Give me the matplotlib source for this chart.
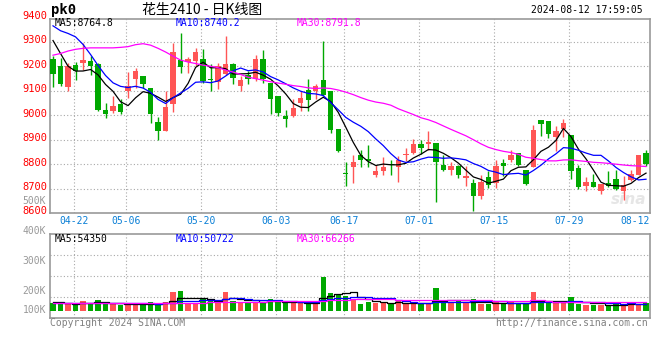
import matplotlib
matplotlib.use('Agg')
import matplotlib.pyplot as plt
import matplotlib.transforms as mtransforms
import numpy as np
import pandas as pd

W, H = 660, 360
RED = '#ff5555'
GREEN = '#00a800'
GRID = '#a8a8a8'
MONO = 'DejaVu Sans Mono'

# trading days in view (exchange closed on these weekdays)
holidays = ['2024-05-01', '2024-05-02', '2024-05-03', '2024-06-10']
days = pd.bdate_range('2024-04-17', '2024-08-12')
days = days[~days.isin(pd.to_datetime(holidays))]
day_labels = [d.strftime('%m-%d') for d in days]

opens = [9228, 9200, 9114, 9203, 9213, 9220, 9209, 9023, 9015, 9044,
         9098, 9149, 9158, 9109, 8970, 8934, 9044, 9224, 9218, 9221,
         9229, 9149, 9135, 9169, 9211, 9119, 9164, 9146, 9228, 9132,
         9080, 8998, 8998, 9048, 9101, 9098, 9142, 9098, 8945, 8764,
         8787, 8839, 8821, 8757, 8771, 8799, 8787, 8836, 8846, 8880,
         8884, 8887, 8798, 8775, 8794, 8745, 8723, 8668, 8746, 8723,
         8805, 8816, 8846, 8777, 8788, 8982, 8974, 8910, 8944, 8917,
         8784, 8712, 8728, 8689, 8723, 8737, 8689, 8734, 8757, 8846]
highs = [9241, 9235, 9214, 9217, 9296, 9241, 9214, 9050, 9078, 9064,
         9176, 9194, 9158, 9109, 8993, 9098, 9296, 9337, 9239, 9275,
         9269, 9207, 9214, 9323, 9214, 9159, 9180, 9244, 9265, 9132,
         9080, 9019, 9064, 9098, 9146, 9128, 9303, 9098, 8945, 8810,
         8839, 8859, 8876, 8798, 8829, 8818, 8832, 8866, 8903, 8900,
         8937, 8887, 8839, 8807, 8798, 8791, 8739, 8757, 8771, 8818,
         8821, 8857, 8846, 8777, 8958, 8982, 8974, 8955, 8986, 8917,
         8798, 8746, 8761, 8720, 8773, 8777, 8750, 8775, 8839, 8857]
lows = [9116, 9121, 9098, 9142, 9184, 9166, 9016, 8989, 9009, 9003,
        9071, 9112, 9112, 8966, 8900, 8934, 9012, 9173, 9173, 9200,
        9132, 9098, 9105, 9166, 9128, 9098, 9128, 9139, 9132, 9003,
        8998, 8951, 8993, 9016, 9016, 9064, 9078, 8928, 8848, 8709,
        8723, 8787, 8788, 8746, 8754, 8757, 8726, 8812, 8843, 8843,
        8859, 8644, 8773, 8754, 8743, 8709, 8607, 8657, 8702, 8702,
        8750, 8809, 8791, 8713, 8788, 8914, 8907, 8853, 8910, 8741,
        8698, 8689, 8705, 8678, 8705, 8693, 8655, 8730, 8754, 8791]
closes = [9169, 9129, 9200, 9180, 9224, 9200, 9020, 9003, 9039, 9012,
          9121, 9180, 9128, 9005, 8934, 9033, 9258, 9196, 9229, 9260,
          9139, 9143, 9200, 9207, 9151, 9142, 9149, 9228, 9146, 9068,
          9007, 8985, 9031, 9071, 9061, 9121, 9082, 8941, 8852, 8758,
          8810, 8818, 8812, 8773, 8787, 8795, 8818, 8843, 8880, 8865,
          8891, 8807, 8777, 8791, 8754, 8747, 8668, 8727, 8713, 8794,
          8791, 8839, 8798, 8720, 8941, 8962, 8923, 8937, 8966, 8773,
          8705, 8726, 8705, 8720, 8709, 8698, 8716, 8761, 8839, 8801]
volumes = [57000, 57000, 57000, 57000, 76000, 57000, 83000, 50000, 50000, 44000,
           52000, 50000, 50000, 68000, 57000, 68000, 149000, 156000, 57000, 57000,
           91000, 91000, 70000, 149000, 78000, 65000, 70000, 70000, 65000, 91000,
           65000, 65000, 65000, 65000, 57000, 57000, 266000, 141000, 123000, 116000,
           91000, 52000, 70000, 57000, 57000, 57000, 83000, 50000, 50000, 50000,
           50000, 180000, 57000, 65000, 75000, 57000, 90000, 50000, 50000, 65000,
           50000, 70000, 50000, 57000, 150000, 63000, 63000, 57000, 57000, 110000,
           50000, 47000, 46000, 46000, 46000, 50000, 50000, 65000, 50000, 57000]

# averages for bars whose window starts before the view
ma5_head = [9305, 9252, 9200, 9180]
ma10_head = [9365, 9345, 9334, 9320, 9289, 9248, 9203, 9162, 9132]
ma30_head = [9245, 9252, 9262, 9269, 9273, 9275, 9275, 9275, 9275, 9277,
             9280, 9288, 9292, 9286, 9273, 9258, 9241, 9225, 9217, 9211,
             9204, 9200, 9194, 9184, 9176, 9166, 9155, 9149, 9143]
vma5_head = [70000, 70000, 58000, 56000]
vma10_head = [60000, 60000, 59000, 59000, 59000, 58000, 59000, 59000, 58000]
vma30_head = [60000, 60000, 60000, 60000, 60000, 60000, 60000, 61000, 61000, 61000,
              61000, 61000, 61000, 61000, 62000, 62000, 64000, 64000, 64000, 64000,
              64000, 65000, 65000, 66000, 67000, 67000, 68000, 68000, 68000]

price_ma_last = ['8764.8', '8740.2', '8791.8']
vol_ma_last = ['54350', '50722', '66266']
tick_dates = ['04-22', '05-06', '05-20', '06-03', '06-17', '07-01', '07-15', '07-29', '08-12']
price_levels = [8600, 8700, 8800, 8900, 9000, 9100, 9200, 9300, 9400]
vol_levels = ['500K', '400K', '300K', '200K', '100K']


def moving_avg(vals, n, head):
    s = pd.Series(vals, dtype=float).rolling(n).mean().values
    s[:len(head)] = head
    return s


def box(l, t, r, b):
    return [l / W, 1 - b / H, (r - l) / W, (b - t) / H]


o = np.array(opens, float)
c = np.array(closes, float)
x = np.arange(len(c))
col = np.where(c >= o, RED, GREEN)

fig = plt.figure(figsize=(W / 100, H / 100), dpi=100)
ax = fig.add_axes(box(50, 18.5, 650, 213))
axv = fig.add_axes(box(50, 234.3, 650, 317.7))

xl = (-0.4, len(c) - 1 + 0.53)
grid_x = [day_labels.index(d) - 0.25 for d in tick_dates[:-1]]

# price panel
ax.vlines(x, lows, highs, colors=col, lw=1, zorder=3)
ax.bar(x, np.maximum(np.abs(c - o), 5), 0.72, bottom=np.minimum(o, c),
       color=col, lw=0, zorder=3)
ax.plot(x, moving_avg(closes, 5, ma5_head), color='black', lw=0.9, zorder=4)
ax.plot(x, moving_avg(closes, 10, ma10_head), color='#0000ff', lw=0.9, zorder=4)
ax.plot(x, moving_avg(closes, 30, ma30_head), color='#ff00ff', lw=0.9, zorder=4)
ax.set_xlim(*xl)
ax.set_ylim(8600, 9395)
ax.set_yticks(price_levels[1:-1])
ax.set_xticks(grid_x)

# volume panel
axv.bar(x, volumes, 0.72, color=col, lw=0, zorder=3)
axv.step(x, moving_avg(volumes, 5, vma5_head), where='mid', color='black', lw=0.9, zorder=4)
axv.step(x, moving_avg(volumes, 10, vma10_head), where='mid', color='#0000ff', lw=0.9, zorder=4)
axv.step(x, moving_avg(volumes, 30, vma30_head), where='mid', color='#ff00ff', lw=0.9, zorder=4)
k = 7820
vlo, vhi = -7 * k, 76.4 * k
axv.set_xlim(*xl)
axv.set_ylim(vlo, vhi)
axv.set_yticks([vlo + (vhi - vlo) * f for f in (0.25, 0.5, 0.75)])
axv.set_xticks(grid_x)

for a in (ax, axv):
    a.grid(True, color=GRID, lw=0.8, ls=(0, (1, 2)))
    a.set_axisbelow(True)
    a.tick_params(length=0, labelleft=False, labelbottom=False)
    for s in a.spines.values():
        s.set_color('#999999')
        s.set_linewidth(1.2)

# price labels
tr = mtransforms.offset_copy(mtransforms.blended_transform_factory(ax.transAxes, ax.transData),
                             fig=fig, x=-3, y=1.5, units='dots')
for v in price_levels:
    ax.text(0, v, str(v), transform=tr, ha='right', va='center', color='#ff0000',
            fontsize=7.5, family=MONO, clip_on=False)

# date labels
trd = mtransforms.blended_transform_factory(ax.transData, ax.transAxes)
for d in tick_dates:
    i = day_labels.index(d)
    if i == len(c) - 1:
        ax.text(xl[1], -0.04, d, transform=trd, ha='right', va='center',
                color='#0a7fd6', fontsize=7, family=MONO)
    else:
        ax.text(i - 0.25, -0.04, d, transform=trd, ha='center', va='center',
                color='#0a7fd6', fontsize=7, family=MONO)

# volume labels
for lab, py in zip(vol_levels, [201, 231, 261, 291, 310]):
    fig.text(46 / W, 1 - py / H, lab, ha='right', va='center', color='#999999',
             fontsize=7, family=MONO)

# legends
ma_colors = ['black', '#0000ff', '#ff00ff']
for name, val, cc, px in zip(['MA5', 'MA10', 'MA30'], price_ma_last, ma_colors, [55, 176, 297]):
    fig.text(px / W, 1 - 23 / H, f'{name}:{val}', ha='left', va='center', color=cc,
             fontsize=7, family=MONO)
for name, val, cc, px in zip(['MA5', 'MA10', 'MA30'], vol_ma_last, ma_colors, [55, 176, 297]):
    fig.text(px / W, 1 - 238.5 / H, f'{name}:{val}', ha='left', va='center', color=cc,
             fontsize=7, family=MONO)

# header
fig.text(51 / W, 1 - 10 / H, 'pk0', ha='left', va='center', fontsize=10,
         fontweight='bold', family=MONO)
fig.text(202 / W, 1 - 10 / H, '花生2410 - 日K线图', ha='center', va='center', fontsize=10,
         family=['Noto Sans CJK SC', 'DejaVu Sans'])
fig.text(643 / W, 1 - 10 / H, '2024-08-12 17:59:05', ha='right', va='center',
         fontsize=7, family=MONO)

# footer
fig.text(50 / W, 1 - 323.5 / H, 'Copyright 2024 SINA.COM', ha='left', va='center',
         color='#808080', fontsize=7, family=MONO)
fig.text(648 / W, 1 - 323.5 / H, 'http://finance.sina.com.cn', ha='right', va='center',
         color='#808080', fontsize=7, family=MONO)

# faint logo
ax.text(0.965, 0.07, 'sina', transform=ax.transAxes, ha='center', va='center',
        fontsize=11, style='italic', fontweight='bold', color='#e6e6e6', zorder=1)

fig.savefig('out.png', dpi=100)
